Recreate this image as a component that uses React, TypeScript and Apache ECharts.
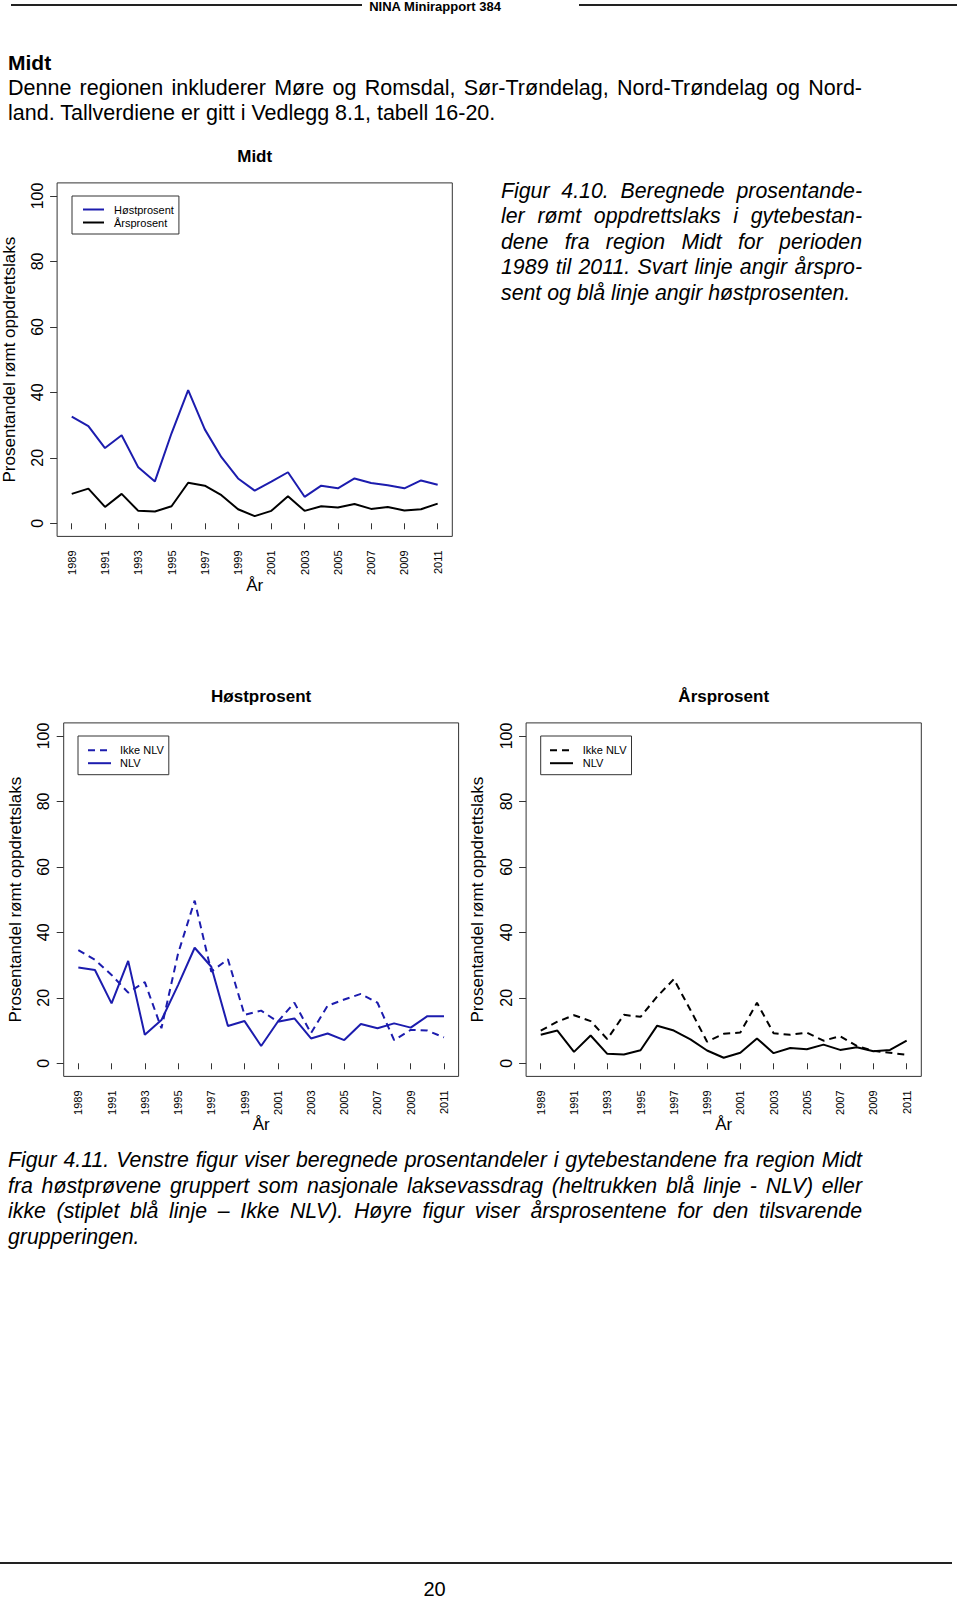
import React, { useEffect, useRef } from "react";
import * as echarts from "echarts";

// ---------- data ----------
const YEARS = [1989, 1990, 1991, 1992, 1993, 1994, 1995, 1996, 1997, 1998, 1999, 2000, 2001, 2002, 2003, 2004, 2005, 2006, 2007, 2008, 2009, 2010, 2011];
const X_TICKS = [1989, 1991, 1993, 1995, 1997, 1999, 2001, 2003, 2005, 2007, 2009, 2011];
const Y_TICKS = [0, 20, 40, 60, 80, 100];

const MIDT_HOST = [32.6, 29.7, 23.0, 26.9, 17.1, 12.8, 27.5, 40.7, 28.7, 20.2, 13.7, 10.0, 12.7, 15.6, 8.1, 11.5, 10.7, 13.7, 12.3, 11.6, 10.7, 13.1, 11.8];
const MIDT_AAR = [9.0, 10.6, 5.0, 9.0, 3.8, 3.6, 5.2, 12.4, 11.5, 8.6, 4.3, 2.2, 3.8, 8.3, 3.8, 5.2, 4.8, 5.9, 4.4, 5.0, 3.9, 4.3, 6.0];
const HOST_IKKE_NLV = [34.6, 31.6, 27.0, 21.6, 24.8, 10.7, 33.5, 49.7, 28.0, 31.8, 14.8, 16.1, 12.7, 18.5, 9.2, 17.6, 19.5, 21.2, 18.5, 7.1, 10.2, 10.0, 7.9];
const HOST_NLV = [29.3, 28.5, 18.3, 31.3, 8.7, 13.2, 23.9, 35.3, 29.5, 11.4, 12.9, 5.3, 12.7, 13.7, 7.6, 9.1, 7.1, 12.0, 10.7, 12.2, 10.9, 14.4, 14.4];
const AAR_IKKE_NLV = [10.0, 12.7, 14.7, 12.9, 7.4, 14.8, 14.2, 20.4, 25.7, 16.3, 6.6, 9.0, 9.4, 18.5, 9.2, 8.7, 9.4, 6.9, 8.3, 5.3, 3.8, 3.2, 2.6];
const AAR_NLV = [8.7, 10.0, 3.5, 8.5, 2.9, 2.7, 4.0, 11.5, 10.0, 7.3, 3.9, 1.7, 3.2, 7.6, 3.1, 4.7, 4.3, 5.7, 4.1, 4.9, 3.7, 4.1, 6.9];

const HEADER = "NINA Minirapport 384";
const HEADING = "Midt";
const BODY_LINES = [
  "Denne regionen inkluderer Møre og Romsdal, Sør-Trøndelag, Nord-Trøndelag og Nord-",
  "land. Tallverdiene er gitt i Vedlegg 8.1, tabell 16-20.",
];
const CAPTION_410 = [
  "Figur 4.10. Beregnede prosentande-",
  "ler rømt oppdrettslaks i gytebestan-",
  "dene fra region Midt for perioden",
  "1989 til 2011. Svart linje angir årspro-",
  "sent og blå linje angir høstprosenten.",
];
const CAPTION_411 = [
  "Figur 4.11. Venstre figur viser beregnede prosentandeler i gytebestandene fra region Midt",
  "fra høstprøvene gruppert som nasjonale laksevassdrag (heltrukken blå linje - NLV) eller",
  "ikke (stiplet blå linje – Ikke NLV). Høyre figur viser årsprosentene for den tilsvarende",
  "grupperingen.",
];
const PAGE_NO = "20";
const Y_TITLE = "Prosentandel rømt oppdrettslaks";
const X_TITLE = "År";

const FONT = '"Liberation Sans", Arial, Helvetica, sans-serif';
const BLUE = "#1c1cae";
const BLACK = "#000000";
const BOX = "#333333";

function measure(ctx: CanvasRenderingContext2D, text: string, font: string) {
  ctx.font = font;
  return ctx.measureText(text).width;
}

function txt(x: number, y: number, text: string, o: any = {}) {
  return {
    type: "text",
    x,
    y,
    rotation: o.rotation || 0,
    silent: true,
    style: {
      text,
      fill: o.color || "#000",
      fontSize: o.fontSize || 20,
      fontFamily: FONT,
      fontStyle: o.fontStyle || "normal",
      fontWeight: o.fontWeight || "normal",
      align: o.align || "left",
      textAlign: o.align || "left",
      verticalAlign: "middle",
      textVerticalAlign: "middle",
    },
  };
}

function paragraph(
  ctx: CanvasRenderingContext2D,
  lines: string[],
  x0: number,
  x1: number,
  ys: number[],
  italic: boolean,
  size: number
) {
  const els: any[] = [];
  const fontStr = (italic ? "italic " : "") + size + "px " + FONT;
  const fs = italic ? "italic" : "normal";
  lines.forEach((line, li) => {
    const isLast = li === lines.length - 1;
    if (isLast) {
      els.push(txt(x0, ys[li], line, { fontStyle: fs, fontSize: size }));
      return;
    }
    const words = line.split(" ");
    const widths = words.map((w) => measure(ctx, w, fontStr));
    const total = widths.reduce((a, b) => a + b, 0);
    const gap = words.length > 1 ? (x1 - x0 - total) / (words.length - 1) : 0;
    let x = x0;
    words.forEach((w, i) => {
      els.push(txt(x, ys[li], w, { fontStyle: fs, fontSize: size }));
      x += widths[i] + gap;
    });
  });
  return els;
}

const GRIDS = [
  { left: 57.1, top: 182.9, width: 395.2, height: 353.5 },
  { left: 63.7, top: 722.9, width: 394.9, height: 353.5 },
  { left: 526.1, top: 722.9, width: 395.2, height: 353.5 },
];

function xAxisFor(gi: number) {
  return {
    type: "value",
    gridIndex: gi,
    min: 1988.12,
    max: 2011.88,
    axisLine: { show: false },
    splitLine: { show: false },
    axisTick: { show: true, length: 6, customValues: X_TICKS, lineStyle: { color: BOX, width: 1 } },
    axisLabel: {
      customValues: X_TICKS,
      rotate: 90,
      fontSize: 11,
      margin: 14,
      color: "#000",
      fontFamily: FONT,
      formatter: (v: number) => String(v),
    },
  };
}

function yAxisFor(gi: number) {
  return {
    type: "value",
    gridIndex: gi,
    min: -4,
    max: 104,
    axisLine: { show: false },
    splitLine: { show: false },
    axisTick: { show: true, length: 7, customValues: Y_TICKS, lineStyle: { color: BOX, width: 1 } },
    axisLabel: {
      customValues: Y_TICKS,
      rotate: 90,
      fontSize: 16,
      margin: 12,
      color: "#000",
      fontFamily: FONT,
      formatter: (v: number) => String(v),
    },
  };
}

function lineSeries(name: string, gi: number, values: number[], color: string, dashed: boolean) {
  return {
    type: "line",
    name,
    xAxisIndex: gi,
    yAxisIndex: gi,
    data: YEARS.map((y, i) => [y, values[i]]),
    symbol: "none",
    showSymbol: false,
    silent: true,
    itemStyle: { color },
    lineStyle: { color, width: 2, type: dashed ? [7, 5] : "solid" },
  };
}

function legendFor(left: number, top: number, names: string[], itemWidth: number, padLeft: number, textGap: number, padTop: number) {
  return {
    show: true,
    orient: "vertical",
    left,
    top,
    data: names,
    selectedMode: false,
    itemWidth,
    itemHeight: 12,
    itemGap: 2,
    padding: [padTop, 5, 6, padLeft],
    borderColor: BOX,
    borderWidth: 1,
    backgroundColor: "#fff",
    itemStyle: { color: "rgba(0,0,0,0)", borderColor: "rgba(0,0,0,0)", borderWidth: 0, opacity: 0 },
    formatter: (n: string) => n.split("|")[0],
    textStyle: { fontSize: 11, fontFamily: FONT, color: "#000", padding: [0, 0, 0, textGap] },
  };
}

export default function App() {
  const ref = useRef<HTMLDivElement>(null);

  useEffect(() => {
    if (!ref.current) return;
    const chart = echarts.init(ref.current, undefined, { renderer: "svg", width: 960, height: 1599 });
    const ctx = document.createElement("canvas").getContext("2d") as CanvasRenderingContext2D;

    const graphics: any[] = [];
    // header
    graphics.push({ type: "line", silent: true, shape: { x1: 11, y1: 5, x2: 362, y2: 5 }, style: { stroke: "#222", lineWidth: 2 } });
    graphics.push({ type: "line", silent: true, shape: { x1: 579, y1: 5, x2: 957, y2: 5 }, style: { stroke: "#222", lineWidth: 2 } });
    graphics.push(txt(435, 6, HEADER, { fontSize: 13, fontWeight: "bold", align: "center" }));
    graphics.push(txt(8, 62, HEADING, { fontSize: 21, fontWeight: "bold" }));
    graphics.push(...paragraph(ctx, BODY_LINES, 8, 862, [87.5, 112.8], false, 21.5));
    graphics.push(...paragraph(ctx, CAPTION_410, 501, 862, [190.7, 216.2, 241.7, 267.2, 292.7], true, 21.3));
    graphics.push(...paragraph(ctx, CAPTION_411, 8, 862, [1160, 1185.5, 1211, 1236.5], true, 21.3));
    // footer
    graphics.push({ type: "line", silent: true, shape: { x1: 0, y1: 1563, x2: 952, y2: 1563 }, style: { stroke: "#222", lineWidth: 2 } });
    graphics.push(txt(434.6, 1588.5, PAGE_NO, { fontSize: 20, align: "center" }));

    // chart titles
    const titles = ["Midt", "Høstprosent", "Årsprosent"];
    const titleY = [156, 696, 696];
    const yTitleX = [9.5, 15, 477.5];
    const xTitleY = [585, 1124.3, 1124.3];
    GRIDS.forEach((g, i) => {
      const cx = g.left + g.width / 2;
      const cy = g.top + g.height / 2;
      graphics.push(txt(cx, titleY[i], titles[i], { fontSize: 17, fontWeight: "bold", align: "center" }));
      graphics.push(txt(yTitleX[i], cy, Y_TITLE, { fontSize: 17, align: "center", rotation: Math.PI / 2 }));
      graphics.push(txt(cx, xTitleY[i], X_TITLE, { fontSize: 17, align: "center" }));
    });

    const option: any = {
      animation: false,
      backgroundColor: "#ffffff",
      textStyle: { fontFamily: FONT },
      grid: GRIDS.map((g) => ({ ...g, show: true, borderColor: BOX, borderWidth: 1, backgroundColor: "transparent", containLabel: false })),
      xAxis: [xAxisFor(0), xAxisFor(1), xAxisFor(2)],
      yAxis: [yAxisFor(0), yAxisFor(1), yAxisFor(2)],
      legend: [
        legendFor(72, 196, ["Høstprosent", "Årsprosent"], 21, 10, 5, 8),
        legendFor(78, 736, ["Ikke NLV|h", "NLV|h"], 23, 9, 4, 8.7),
        legendFor(540.7, 736, ["Ikke NLV|a", "NLV|a"], 23, 8.3, 4.7, 8.7),
      ],
      series: [
        lineSeries("Høstprosent", 0, MIDT_HOST, BLUE, false),
        lineSeries("Årsprosent", 0, MIDT_AAR, BLACK, false),
        lineSeries("Ikke NLV|h", 1, HOST_IKKE_NLV, BLUE, true),
        lineSeries("NLV|h", 1, HOST_NLV, BLUE, false),
        lineSeries("Ikke NLV|a", 2, AAR_IKKE_NLV, BLACK, true),
        lineSeries("NLV|a", 2, AAR_NLV, BLACK, false),
      ],
      graphic: { elements: graphics },
    };
    chart.setOption(option);
    return () => chart.dispose();
  }, []);

  return (
    <div
      ref={ref}
      style={{ position: "absolute", left: 0, top: 0, width: 960, height: 1599, background: "#fff" }}
    />
  );
}
